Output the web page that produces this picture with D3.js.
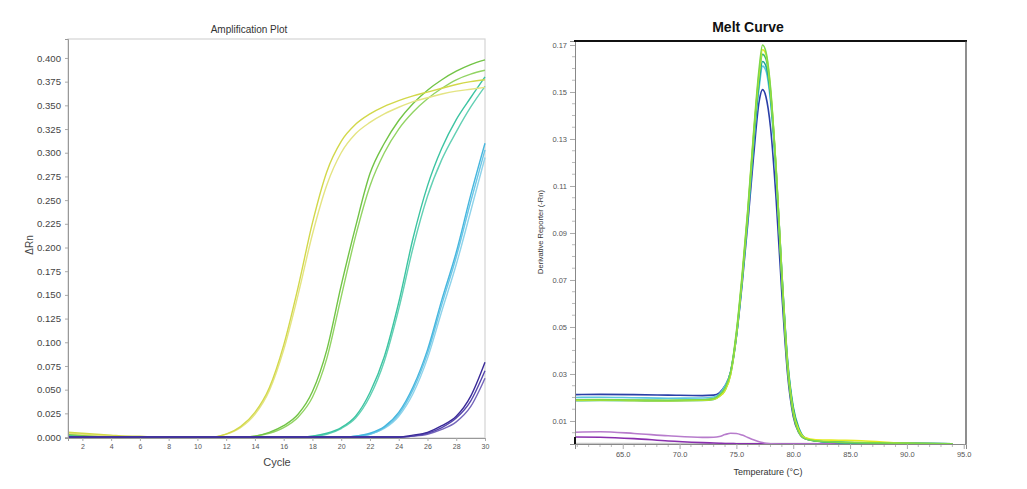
<!DOCTYPE html>
<html><head><meta charset="utf-8">
<script src="https://cdn.jsdelivr.net/npm/d3@7"></script>
<style>body{margin:0;background:#fff;} svg{display:block;font-family:"Liberation Sans",Arial,sans-serif;}</style>
</head><body>
<svg id="c" width="1027" height="489"></svg>
<script>
// ---------------- Amplification plot data ----------------
const cycles = [1,2,3,4,5,6,7,8,9,10,11,12,13,14,15,16,17,18,19,20,21,22,23,24,25,26,27,28,29,30];
const ampYTicks = [0,0.025,0.05,0.075,0.1,0.125,0.15,0.175,0.2,0.225,0.25,0.275,0.3,0.325,0.35,0.375,0.4];
const ampXTicks = [2,4,6,8,10,12,14,16,18,20,22,24,26,28,30];
const yellow1 = [0.005,0.004,0.003,0.002,0.001,0.001,0,0,0,0,0,0.003,0.011,0.026,0.052,0.097,0.158,0.226,0.280,0.312,0.330,0.341,0.349,0.355,0.360,0.364,0.368,0.372,0.375,0.377];
const yellow2 = [0.004,0.003,0.002,0.001,0.001,0,0,0,0,0,0,0.003,0.010,0.024,0.049,0.092,0.150,0.214,0.266,0.300,0.320,0.332,0.341,0.348,0.354,0.358,0.362,0.365,0.367,0.369];
const green1  = [0.003,0.002,0.001,0.001,0,0,0,0,0,0,0,0,0,0.001,0.005,0.012,0.024,0.048,0.092,0.160,0.222,0.278,0.310,0.334,0.352,0.366,0.377,0.386,0.393,0.398];
const green2  = [0.003,0.002,0.001,0,0,0,0,0,0,0,0,0,0,0.001,0.004,0.010,0.021,0.042,0.083,0.148,0.212,0.265,0.300,0.325,0.343,0.357,0.368,0.377,0.383,0.387];
const teal1   = [0.002,0.001,0,0,0,0,0,0,0,0,0,0,0,0,0,0,0,0.001,0.004,0.010,0.022,0.047,0.085,0.142,0.210,0.265,0.305,0.335,0.358,0.380];
const teal2   = [0.002,0.001,0,0,0,0,0,0,0,0,0,0,0,0,0,0,0,0.001,0.003,0.009,0.020,0.043,0.080,0.135,0.200,0.254,0.293,0.322,0.348,0.370];
const cyan1   = [0.001,0,0,0,0,0,0,0,0,0,0,0,0,0,0,0,0,0,0,0,0.001,0.004,0.011,0.026,0.053,0.092,0.145,0.195,0.255,0.310];
const cyan2   = [0.001,0,0,0,0,0,0,0,0,0,0,0,0,0,0,0,0,0,0,0,0.001,0.003,0.010,0.024,0.050,0.088,0.140,0.190,0.248,0.303];
const cyan3   = [0.001,0,0,0,0,0,0,0,0,0,0,0,0,0,0,0,0,0,0,0,0.001,0.003,0.009,0.022,0.046,0.083,0.133,0.182,0.238,0.295];
const purple1 = [0,0,0,0,0,0,0,0,0,0,0,0,0,0,0,0,0,0,0,0,0,0,0,0,0.002,0.005,0.012,0.022,0.043,0.079];
const purple2 = [0,0,0,0,0,0,0,0,0,0,0,0,0,0,0,0,0,0,0,0,0,0,0,0,0.001,0.004,0.010,0.020,0.038,0.070];
const purple3 = [0,0,0,0,0,0,0,0,0,0,0,0,0,0,0,0,0,0,0,0,0,0,0,0,0.001,0.003,0.008,0.016,0.032,0.062];
const ampSeries = [
  {v: cyan3,   c: "#8fd3ea"}, {v: cyan2, c: "#6cc6e6"}, {v: cyan1, c: "#45b6de"},
  {v: teal2,   c: "#63d0b4"}, {v: teal1, c: "#3cc4a2"},
  {v: green2,  c: "#92d464"}, {v: green1, c: "#72c446"},
  {v: yellow2, c: "#e4e482"}, {v: yellow1, c: "#d2d84a"},
  {v: purple3, c: "#7566bb"}, {v: purple2, c: "#5646ad"}, {v: purple1, c: "#3a2a98"}
];

// ---------------- Melt curve data ----------------
const meltTemps = [60.8,63,66,69,72,73,73.5,74,74.5,75,75.5,76,76.5,77,77.3,77.6,78,78.5,79,79.5,80,80.5,81,82,84,86,90,94];
const meltLime  = [0.0190,0.0191,0.0189,0.0188,0.0190,0.0195,0.021,0.024,0.031,0.048,0.072,0.100,0.132,0.160,0.170,0.167,0.152,0.116,0.070,0.032,0.013,0.005,0.0025,0.0015,0.0010,0.0008,0.0005,0.0003];
const meltYellow= [0.0188,0.0189,0.0187,0.0186,0.0188,0.0193,0.0205,0.023,0.030,0.047,0.071,0.099,0.131,0.158,0.168,0.166,0.151,0.117,0.072,0.034,0.014,0.006,0.0030,0.0020,0.0018,0.0016,0.0005,0.0003];
const meltGreen = [0.0186,0.0187,0.0186,0.0185,0.0187,0.0192,0.0205,0.023,0.030,0.046,0.070,0.098,0.130,0.157,0.166,0.164,0.150,0.117,0.073,0.035,0.015,0.006,0.0028,0.0015,0.0009,0.0007,0.0005,0.0003];
const meltTeal  = [0.0189,0.0190,0.0188,0.0187,0.0189,0.0194,0.021,0.024,0.031,0.047,0.070,0.097,0.128,0.154,0.163,0.161,0.148,0.116,0.073,0.036,0.016,0.007,0.0030,0.0015,0.0009,0.0007,0.0005,0.0003];
const meltCyan  = [0.0200,0.0201,0.0199,0.0197,0.0198,0.0202,0.0215,0.025,0.031,0.046,0.069,0.096,0.127,0.152,0.161,0.159,0.146,0.114,0.072,0.035,0.015,0.006,0.0028,0.0015,0.0009,0.0007,0.0005,0.0003];
const meltBlue  = [0.0212,0.0213,0.0212,0.0210,0.0208,0.0210,0.022,0.025,0.031,0.046,0.068,0.094,0.122,0.146,0.151,0.148,0.135,0.104,0.064,0.030,0.012,0.005,0.0025,0.0015,0.0008,0.0006,0.0004,0.0003];
const meltGray  = [0.0004,0.0004,0.0004,0.0004,0.0004,0.0004,0.0004,0.0004,0.0004,0.0004,0.0004,0.0004,0.0004,0.0004,0.0004,0.0004,0.0004,0.0004,0.0004,0.0004,0.0004,0.0004,0.0004,0.0004,0.0004,0.0004,0.0004,0.0003];
const purpleTemps = [60.8,63,66,69,72,73,73.5,74,74.5,75,75.5,76,76.5,77,77.3,77.6,78,80,85,90,94];
const meltPurpleLight = [0.0052,0.0054,0.0047,0.0037,0.0030,0.0031,0.0034,0.0042,0.0048,0.0047,0.0040,0.0030,0.0020,0.0012,0.0008,0.0005,0.0003,0.0002,0.0002,0.0002,0.0002];
const meltPurpleDark  = [0.0032,0.0031,0.0025,0.0015,0.0008,0.0006,0.0005,0.0004,0.0004,0.0003,0.0003,0.0003,0.0003,0.0003,0.0003,0.0003,0.0003,0.0003,0.0003,0.0003,0.0003];
const meltYTicks = [0.01,0.03,0.05,0.07,0.09,0.11,0.13,0.15,0.17];
const meltYMinor = [0.005,0.015,0.02,0.025,0.035,0.04,0.045,0.055,0.06,0.065,0.075,0.08,0.085,0.095,0.1,0.105,0.115,0.12,0.125,0.135,0.14,0.145,0.155,0.16,0.165];
const meltXTicks = [65,70,75,80,85,90,95];
const meltXMinor = [61,62,63,64,66,67,68,69,71,72,73,74,76,77,78,79,81,82,83,84,86,87,88,89,91,92,93,94];

const svg = d3.select("#c");

// ================= Amplification Plot =================
const ax = d3.scaleLinear().domain([1,30]).range([68,485]);
const ay = d3.scaleLinear().domain([-0.001,0.42]).range([438,39]);
const gA = svg.append("g");
gA.append("rect").attr("x",68).attr("y",39).attr("width",417).attr("height",399)
  .attr("fill","none").attr("stroke","#d4d4d4").attr("stroke-width",1.2);
const line = d3.line().x((d,i)=>ax(cycles[i])).y(d=>ay(d)).curve(d3.curveMonotoneX);
gA.append("g").selectAll("path").data(ampSeries).join("path")
  .attr("d", d=>line(d.v)).attr("fill","none").attr("stroke",d=>d.c).attr("stroke-width",1.4);
const yAx = gA.append("g").attr("transform","translate(68,0)")
  .call(d3.axisLeft(ay).tickValues(ampYTicks).tickFormat(d3.format(".3f")).tickSize(3).tickPadding(4));
yAx.select(".domain").attr("stroke","#999");
yAx.selectAll(".tick line").attr("stroke","#aaa");
yAx.selectAll("text").attr("font-size",9.6).attr("fill","#444").attr("font-family","Liberation Sans, Arial");
const xAx = gA.append("g").attr("transform","translate(0,438)")
  .call(d3.axisBottom(ax).tickValues(ampXTicks).tickFormat(d3.format("d")).tickSize(3).tickPadding(3));
xAx.select(".domain").attr("stroke","#999");
xAx.selectAll(".tick line").attr("stroke","#aaa");
xAx.selectAll("text").attr("font-size",7).attr("fill","#555").attr("font-family","Liberation Sans, Arial");
gA.append("text").attr("x",249).attr("y",33).attr("text-anchor","middle").attr("font-size",10).attr("fill","#333").text("Amplification Plot");
gA.append("text").attr("x",277).attr("y",466).attr("text-anchor","middle").attr("font-size",11).attr("fill","#444").text("Cycle");
gA.append("text").attr("transform","translate(33,245) rotate(-90)").attr("text-anchor","middle").attr("font-size",10).attr("fill","#444").text("ΔRn");

// ================= Melt Curve =================
const mx = d3.scaleLinear().domain([60.8,95.2]).range([575,966]);
const my = d3.scaleLinear().domain([0.0002,0.1717]).range([444,41]);
const gM = svg.append("g");
const meltSeries = [
  {t: meltTemps, v: meltGray, c: "#c8c8c8"},
  {t: purpleTemps, v: meltPurpleDark, c: "#8a2fae"},
  {t: purpleTemps, v: meltPurpleLight, c: "#b77ccc"},
  {t: meltTemps, v: meltBlue, c: "#2a3fa8"},
  {t: meltTemps, v: meltCyan, c: "#5ec6e0"},
  {t: meltTemps, v: meltTeal, c: "#22a89a"},
  {t: meltTemps, v: meltGreen, c: "#3fbf6a"},
  {t: meltTemps, v: meltYellow, c: "#e4ec20"},
  {t: meltTemps, v: meltLime, c: "#7ed84a"}
];
const mline = (s)=>d3.line().x((d,i)=>mx(s.t[i])).y(d=>my(d)).curve(d3.curveMonotoneX)(s.v);
gM.append("g").selectAll("path").data(meltSeries).join("path")
  .attr("d", d=>mline(d)).attr("fill","none").attr("stroke",d=>d.c).attr("stroke-width",1.6);
// minor ticks
gM.append("g").selectAll("line").data(meltYMinor).join("line")
  .attr("x1",572).attr("x2",575).attr("y1",d=>my(d)).attr("y2",d=>my(d)).attr("stroke","#bbb");
gM.append("g").selectAll("line").data(meltXMinor).join("line")
  .attr("x1",d=>mx(d)).attr("x2",d=>mx(d)).attr("y1",444).attr("y2",447).attr("stroke","#bbb");
const myAx = gM.append("g").attr("transform","translate(575,0)")
  .call(d3.axisLeft(my).tickValues(meltYTicks).tickFormat(d3.format(".2f")).tickSize(5).tickPadding(3));
myAx.select(".domain").attr("stroke","#888");
myAx.selectAll(".tick line").attr("stroke","#aaa");
myAx.selectAll("text").attr("font-size",7.5).attr("fill","#555").attr("font-family","Liberation Sans, Arial");
const mxAx = gM.append("g").attr("transform","translate(0,444)")
  .call(d3.axisBottom(mx).tickValues(meltXTicks).tickFormat(d3.format(".1f")).tickSize(5).tickPadding(3));
mxAx.select(".domain").attr("stroke","#888");
mxAx.selectAll(".tick line").attr("stroke","#aaa");
mxAx.selectAll("text").attr("font-size",7.5).attr("fill","#555").attr("font-family","Liberation Sans, Arial");
gM.append("line").attr("x1",574).attr("x2",967).attr("y1",41).attr("y2",41).attr("stroke","#111").attr("stroke-width",2);
gM.append("line").attr("x1",966).attr("x2",966).attr("y1",41).attr("y2",444).attr("stroke","#444").attr("stroke-width",1.2);
gM.append("line").attr("x1",575).attr("x2",575).attr("y1",437).attr("y2",444).attr("stroke","#111").attr("stroke-width",2);
gM.append("text").attr("x",748).attr("y",32).attr("text-anchor","middle").attr("font-size",14).attr("font-weight","bold").attr("fill","#111").text("Melt Curve");
gM.append("text").attr("x",768).attr("y",475).attr("text-anchor","middle").attr("font-size",9).attr("fill","#333").text("Temperature (°C)");
gM.append("text").attr("transform","translate(543,232) rotate(-90)").attr("text-anchor","middle").attr("font-size",7.5).attr("fill","#333").text("Derivative Reporter (-Rn)");
</script>
</body></html>
